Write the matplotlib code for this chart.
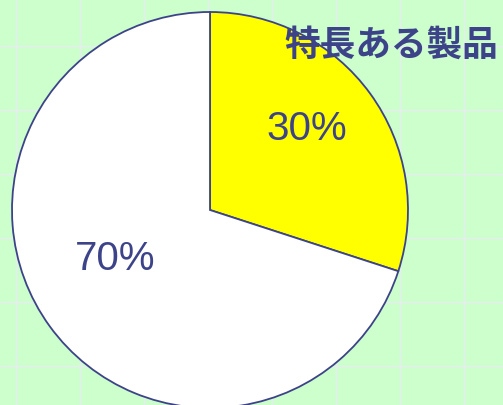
import matplotlib
matplotlib.use("Agg")
import matplotlib.pyplot as plt
from matplotlib.lines import Line2D

labels = ["特長ある製品", "その他"]
values = [30, 70]
colors = ["#ffff00", "#ffffff"]
title = "特長ある製品"

W, H = 503, 405
fig = plt.figure(figsize=(W / 100, H / 100), dpi=100)
fig.patch.set_facecolor("#ccffcc")

# background grid drawn on the figure in pixel coordinates
grid_color = "#e6ecef"
for x in range(15, W, 64):
    fig.add_artist(Line2D([x + 0.5, x + 0.5], [0, H], transform=None,
                          color=grid_color, linewidth=1.0, zorder=0))
for y in range(45, H, 64):
    yy = H - y - 0.5
    fig.add_artist(Line2D([0, W], [yy, yy], transform=None,
                          color=grid_color, linewidth=1.0, zorder=0))

ax = fig.add_axes([0, 0, 1, 1], zorder=1)
ax.patch.set_alpha(0)

edge = "#3d4389"
cx, cy, r = 210, H - 210, 198
wedges, texts, autotexts = ax.pie(
    values, colors=colors, startangle=90, counterclock=False,
    center=(cx, cy), radius=r, frame=True,
    autopct="%d%%", pctdistance=0.6,
    wedgeprops=dict(edgecolor=edge, linewidth=1.3),
    textprops=dict(color=edge, fontsize=29, family="Liberation Sans"),
)
autotexts[0].set_position((307, H - 128.5))
autotexts[1].set_position((115, H - 259.5))

ax.set_xlim(0, W)
ax.set_ylim(0, H)
ax.set_aspect("auto")
ax.axis("off")

ax.text(391, H - 45, title, ha="center", va="center", fontsize=25.7,
        fontweight="bold", color=edge,
        family=["Noto Sans CJK JP", "DejaVu Sans"], zorder=4)

fig.savefig("out.png", dpi=100, facecolor=fig.get_facecolor())
